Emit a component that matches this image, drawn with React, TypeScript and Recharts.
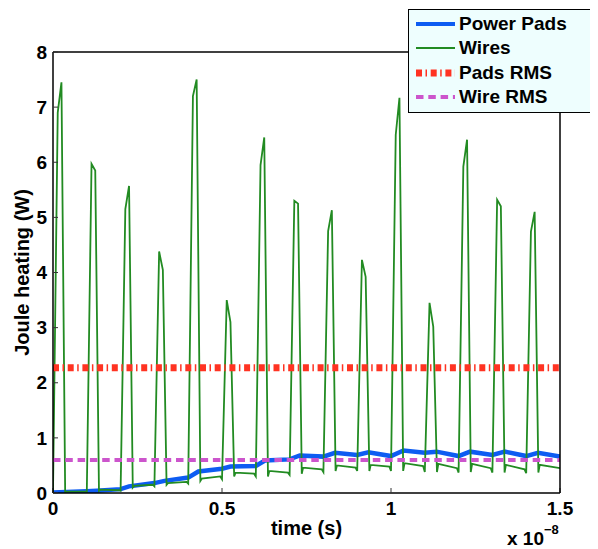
import React from 'react';
import { ComposedChart, Line, XAxis, YAxis, Legend } from 'recharts';

// Wire current spikes: one pulse every 0.1 (x 1e-8 s)
const spikeStart = [0, 0.1, 0.2, 0.3, 0.4, 0.5, 0.6, 0.7, 0.8, 0.9, 1.0, 1.1, 1.2, 1.3, 1.4];
const preRise = [0, 0.02, 0.04, 0.12, 0.17, 0.25, 0.3, 0.33, 0.38, 0.4, 0.4, 0.38, 0.37, 0.37, 0.36];
const peakA = [6.9, 5.97, 5.15, 4.38, 7.2, 3.5, 5.95, 5.3, 4.75, 4.23, 6.5, 3.45, 5.92, 5.32, 4.74];
const peakB = [7.45, 5.85, 5.57, 4.05, 7.5, 3.1, 6.45, 5.25, 5.13, 3.92, 7.17, 3.02, 6.41, 5.2, 5.1];
const dipAfter = [0.01, 0.04, 0.1, 0.15, 0.22, 0.3, 0.3, 0.35, 0.4, 0.4, 0.4, 0.38, 0.38, 0.37, 0.37];
const lowStart = [0.025, 0.06, 0.13, 0.18, 0.26, 0.37, 0.4, 0.46, 0.5, 0.51, 0.54, 0.53, 0.53, 0.51, 0.51];
const lowEnd = [0.025, 0.05, 0.15, 0.2, 0.3, 0.35, 0.37, 0.43, 0.46, 0.48, 0.49, 0.45, 0.45, 0.43, 0.45];

// Power pads
const padsTime = [0, 0.1, 0.13, 0.2, 0.225, 0.3, 0.33, 0.4, 0.43, 0.5, 0.525, 0.6, 0.627, 0.7, 0.73,
  0.8, 0.834, 0.9, 0.933, 1.0, 1.037, 1.1, 1.135, 1.2, 1.234, 1.3, 1.337, 1.4, 1.435, 1.5];
const padsValue = [0.01, 0.03, 0.04, 0.07, 0.12, 0.18, 0.22, 0.28, 0.39, 0.44, 0.48, 0.49, 0.59, 0.61, 0.68,
  0.66, 0.73, 0.69, 0.74, 0.67, 0.77, 0.73, 0.75, 0.67, 0.75, 0.69, 0.75, 0.67, 0.73, 0.66];

const padsRms = 2.27;
const wireRms = 0.6;

const xTicks = [0, 0.5, 1, 1.5];
const yTicks = [0, 1, 2, 3, 4, 5, 6, 7, 8];

const FONT = '"Liberation Sans", Arial, Helvetica, sans-serif';
const BLUE = '#0d5cf2';
const GREEN = '#228b22';
const RED = '#ff3322';
const MAGENTA = '#cc55cc';
const RED_DASH = '6 3.5 1.5 3.7';
const MAG_DASH = '7.5 4.8';

const wireData: { t: number; w: number }[] = [];
spikeStart.forEach((t0, i) => {
  if (i > 0) wireData.push({ t: t0 - 0.005, w: lowEnd[i - 1] });
  wireData.push({ t: t0, w: preRise[i] });
  wireData.push({ t: t0 + 0.014, w: peakA[i] });
  wireData.push({ t: t0 + 0.025, w: peakB[i] });
  wireData.push({ t: t0 + 0.036, w: dipAfter[i] });
  wireData.push({ t: t0 + 0.04, w: lowStart[i] });
});
wireData.push({ t: 1.5, w: lowEnd[lowEnd.length - 1] });

const padsData = padsTime.map((t, i) => ({ t, p: padsValue[i] }));
const padsRmsData = [{ t: 0, r: padsRms }, { t: 1.5, r: padsRms }];
const wireRmsData = [{ t: 0, r: wireRms }, { t: 1.5, r: wireRms }];

const legendItems = [
  { name: 'Power Pads', color: BLUE, width: 4, dash: undefined },
  { name: 'Wires', color: GREEN, width: 2, dash: undefined },
  { name: 'Pads RMS', color: RED, width: 7, dash: RED_DASH },
  { name: 'Wire RMS', color: MAGENTA, width: 4, dash: MAG_DASH },
];

const LegendBox = () => (
  <div style={{
    position: 'relative', width: 200, height: 104, boxSizing: 'border-box',
    border: '1.5px solid #000', background: '#eefefe', fontFamily: FONT,
    fontWeight: 'bold', fontSize: 19, color: '#000',
  }}>
    {legendItems.map((item, i) => (
      <div key={item.name} style={{ position: 'absolute', left: 0, top: 2 + i * 24.3, height: 24, width: 200 }}>
        <svg width={50} height={24} style={{ position: 'absolute', left: 0, top: 0 }}>
          <line x1={7} x2={46} y1={12} y2={12} stroke={item.color} strokeWidth={item.width}
            strokeDasharray={item.dash} />
        </svg>
        <span style={{ position: 'absolute', left: 50, top: 0, lineHeight: '24px', whiteSpace: 'nowrap' }}>
          {item.name}
        </span>
      </div>
    ))}
  </div>
);

const YTitle = (props: any) => {
  const { viewBox } = props;
  const cx = 21;
  const cy = viewBox.y + viewBox.height / 2;
  return (
    <text x={cx} y={cy} transform={`rotate(-90 ${cx} ${cy})`} textAnchor="middle"
      fontFamily={FONT} fontWeight="bold" fontSize={20} fill="#000">
      Joule heating (W)
    </text>
  );
};

const XTitle = (props: any) => {
  const { viewBox } = props;
  const cx = viewBox.x + viewBox.width / 2;
  return (
    <g fontFamily={FONT} fontWeight="bold" fill="#000">
      <text x={cx} y={527} textAnchor="middle" fontSize={20}>time (s)</text>
      <text x={499} y={537} fontSize={19}>
        x 10<tspan dy={-11} fontSize={13}>−8</tspan>
      </text>
    </g>
  );
};

const tickStyle = { fontFamily: FONT, fontWeight: 'bold', fontSize: 19, fill: '#000' };

export default function App() {
  return (
    <div style={{ width: 590, height: 541, overflow: 'hidden' }}>
      <ComposedChart width={590} height={541} margin={{ top: 44, right: 38, bottom: 26, left: 5 }}>
        <XAxis type="number" dataKey="t" domain={[0, 1.5]} ticks={xTicks} allowDataOverflow
          height={30} tickSize={-5} tickMargin={14} tick={tickStyle}
          axisLine={{ stroke: '#000', strokeWidth: 1.5 }} tickLine={{ stroke: '#333' }}
          label={<XTitle />} />
        <XAxis xAxisId="top" orientation="top" type="number" dataKey="t" domain={[0, 1.5]} ticks={xTicks}
          allowDataOverflow mirror height={1} tick={false} tickSize={5}
          axisLine={{ stroke: '#000', strokeWidth: 1.5 }} tickLine={{ stroke: '#333' }} />
        <YAxis type="number" domain={[0, 8]} ticks={yTicks} allowDataOverflow width={40}
          tickSize={-5} tickMargin={11} tick={tickStyle}
          axisLine={{ stroke: '#000', strokeWidth: 1.5 }} tickLine={{ stroke: '#333' }}
          label={<YTitle />} />
        <YAxis yAxisId="right" orientation="right" type="number" domain={[0, 8]} ticks={yTicks}
          allowDataOverflow mirror width={1} tick={false} tickSize={5}
          axisLine={{ stroke: '#000', strokeWidth: 1.5 }} tickLine={{ stroke: '#333' }} />
        <Line data={padsData} dataKey="p" type="linear" stroke={BLUE} strokeWidth={4.5}
          dot={false} isAnimationActive={false} />
        <Line data={wireData} dataKey="w" type="linear" stroke={GREEN} strokeWidth={1.8}
          dot={false} isAnimationActive={false} />
        <Line data={padsRmsData} dataKey="r" type="linear" stroke={RED} strokeWidth={7}
          strokeDasharray={RED_DASH} dot={false} isAnimationActive={false} />
        <Line data={wireRmsData} dataKey="r" type="linear" stroke={MAGENTA} strokeWidth={4}
          strokeDasharray={MAG_DASH} dot={false} isAnimationActive={false} />
        <Legend layout="horizontal" verticalAlign="middle" align="center" content={<LegendBox />}
          wrapperStyle={{ left: 400, top: 1, width: 200, height: 104 }} />
      </ComposedChart>
    </div>
  );
}
